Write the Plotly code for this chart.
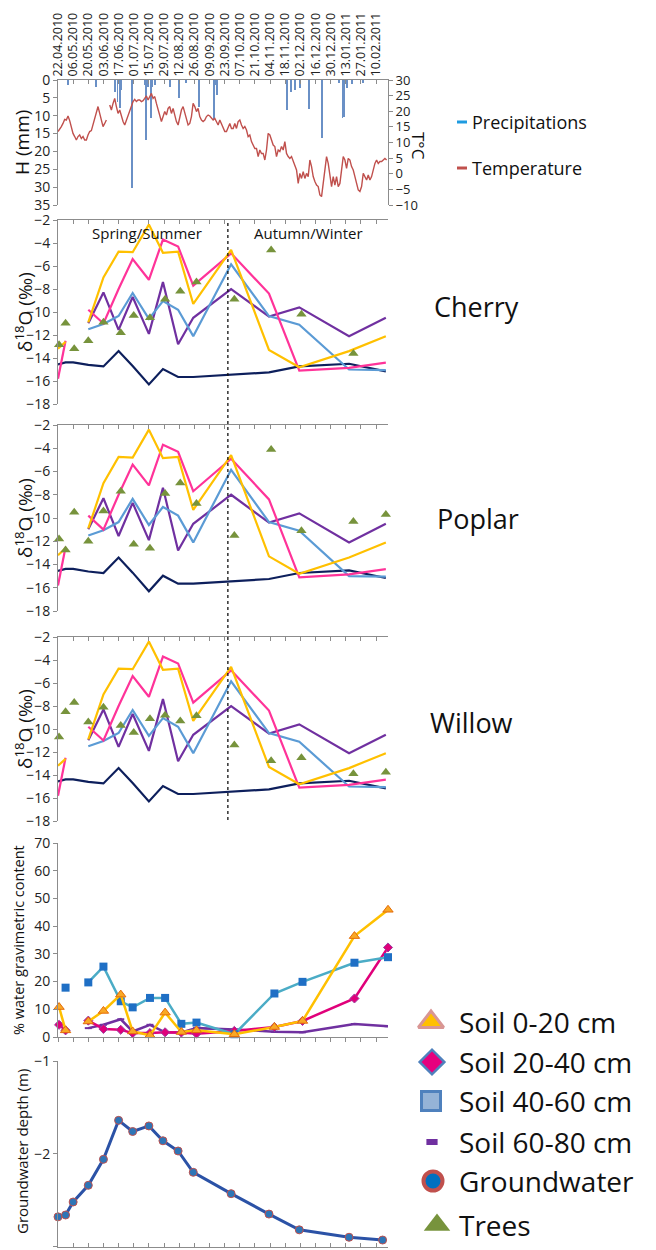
import plotly.graph_objects as go
import pandas as pd

# ---------------- data ----------------
# daily-ish air temperature (read every ~37 h from 22.04.2010)
temp_start = "2010-04-22"
temperature = [13.5,14.2,15.1,16.1,17.4,17.2,18.5,17.0,14.5,12.9,
 11.9,10.8,11.9,12.4,11.3,11.9,10.8,10.8,12.4,13.5,
 13.8,15.6,17.2,19.3,21.5,19.3,17.2,15.1,16.1,17.2,
 None,22.0,20.4,22.5,24.1,21.5,19.3,20.4,18.3,16.7,
 15.6,17.2,18.3,19.9,21.5,23.1,23.8,23.1,23.6,23.6,
 23.1,23.4,24.1,24.9,23.6,24.7,25.7,24.1,24.7,22.5,
 20.4,18.3,16.7,18.3,19.9,18.8,20.9,21.5,19.3,20.9,
 18.8,16.7,15.6,17.7,20.4,21.5,19.3,17.2,15.6,16.1,
 18.3,22.5,21.5,19.9,20.9,18.3,17.2,16.7,17.2,18.3,
 18.8,18.5,17.7,17.2,17.7,16.7,15.6,17.2,16.1,14.5,
 13.5,13.5,15.1,16.1,14.5,14.5,16.1,14.5,16.7,17.2,
 15.6,14.5,15.1,14.0,11.9,12.4,10.3,9.2,8.1,8.1,
 5.5,7.6,6.5,6.5,4.4,7.6,12.9,12.4,10.8,9.2,
 8.7,5.5,7.6,7.1,8.7,7.6,10.3,6.5,5.5,4.9,
 5.5,3.9,2.3,1.2,-3.1,0.1,-1.5,0.7,-1.5,0.1,
 -0.9,4.4,2.3,-0.9,-2.5,-3.6,-4.1,-6.8,-7.3,-3.1,
 0.7,5.5,3.3,0.1,-4.1,-0.9,-3.6,-0.9,-4.1,-3.1,
 1.2,5.5,4.4,1.7,4.9,4.4,2.3,1.2,-0.9,-3.1,
 -5.2,-5.7,-4.1,0.1,-0.9,-2.0,-0.4,-2.0,-0.9,1.2,
 3.3,4.4,3.3,3.9,3.9,4.4,4.9,4.4]

precip_dates = ["2010-05-01","2010-05-27","2010-06-14","2010-06-16","2010-06-18","2010-06-19",
                "2010-06-29","2010-07-11","2010-07-12","2010-07-14","2010-07-17","2010-07-18",
                "2010-07-21","2010-08-03","2010-08-04","2010-08-12","2010-08-18","2010-08-30",
                "2010-09-13","2010-09-14","2010-09-16","2010-11-20","2010-11-23","2010-11-27",
                "2010-12-02","2010-12-10","2010-12-22","2011-01-07","2011-01-10","2011-01-11",
                "2011-01-14","2011-01-19","2011-01-29"]
precip_mm = [1.4,2.0,3.3,6.1,7.9,2.8,30.3,1.4,16.8,1.9,10.7,1.9,1.4,1.9,1.9,5.1,0.9,7.5,
             11.0,1.4,4.2,8.4,3.3,2.8,2.3,8.2,16.3,0.9,10.7,10.3,2.3,1.1,0.9]

# isotope sampling dates (soil + groundwater lines)
iso_dates = ["2010-04-22","2010-04-29","2010-05-06","2010-05-20","2010-06-03","2010-06-17",
             "2010-06-30","2010-07-15","2010-07-28","2010-08-11","2010-08-25","2010-09-29",
             "2010-11-03","2010-12-01","2011-01-16","2011-02-19"]
iso_soil_0_20 = [-13.2,-12.6,None,-10.9,-7.0,-4.75,-4.8,-2.4,-4.85,-4.75,-9.3,-4.6,-13.3,-14.8,-13.4,-12.1]
iso_soil_20_40 = [-15.8,-12.5,None,-9.8,-11.0,-8.0,-5.4,-7.2,-3.7,-4.3,-7.7,-4.9,-8.4,-15.1,-14.85,-14.4]
iso_soil_40_60 = [None,None,None,-11.5,-11.05,-10.35,-8.35,-10.6,-9.05,-9.8,-12.1,-5.85,-10.35,-11.1,-15.0,-15.05]
iso_soil_60_80 = [None,None,None,-10.97,-8.3,-11.55,-8.7,-11.9,-7.4,-12.8,-10.5,-8.0,-10.4,-9.6,-12.1,-10.5]
iso_groundwater = [-14.55,-14.38,-14.38,-14.6,-14.73,-13.4,-14.7,-16.3,-14.96,-15.65,-15.65,-15.48,-15.25,-14.73,-14.5,-15.16]

tree_dates = ["2010-04-23","2010-04-29","2010-05-07","2010-05-20","2010-06-03","2010-06-19",
              "2010-07-01","2010-07-16","2010-07-30","2010-08-13","2010-08-28","2010-10-02",
              "2010-11-05","2010-12-03","2011-01-20","2011-02-19"]
cherry = [-12.85,-10.97,-13.2,-12.5,-10.9,-11.8,-10.3,-10.5,-8.9,-8.2,-7.4,-8.9,-4.6,-10.2,-13.6,None]
poplar = [-11.8,-12.75,-9.5,-12.0,-9.4,-7.7,-12.26,-12.6,-7.9,-7.0,-8.75,-11.5,-4.1,-11.1,-10.3,-9.7]
willow = [-10.7,-8.5,-7.7,-9.4,-8.1,-9.7,-10.3,-9.1,-8.8,-9.3,-8.85,-11.4,-12.75,-12.5,-13.9,-13.75]

# soil water content
soil_dates = ["2010-04-23","2010-04-29","2010-05-06","2010-05-20","2010-06-03","2010-06-19",
              "2010-06-30","2010-07-16","2010-07-30","2010-08-14","2010-08-28","2010-10-02",
              "2010-11-08","2010-12-04","2011-01-21","2011-02-21"]
swc_0_20 = [10.8,2.4,None,5.6,9.4,15.3,2.0,0.6,8.8,1.8,2.4,1.0,3.6,5.8,36.4,45.9]
swc_20_40 = [4.4,2.4,None,5.9,2.9,2.6,1.4,1.4,1.7,1.6,1.2,2.2,3.6,5.8,13.9,32.3]
swc_40_60 = [None,17.8,None,19.7,25.4,12.9,10.7,14.1,14.1,4.75,5.2,1.0,15.7,19.9,26.8,28.8]
swc_60_80 = [None,None,None,3.2,4.4,6.4,2.0,4.4,1.7,1.6,3.2,2.7,1.9,1.7,4.7,3.9]

# groundwater depth
gw_dates = ["2010-04-22","2010-04-29","2010-05-06","2010-05-20","2010-06-03","2010-06-17",
            "2010-06-30","2010-07-15","2010-07-28","2010-08-11","2010-08-25","2010-09-29",
            "2010-11-03","2010-12-01","2011-01-16","2011-02-16"]
gw_depth = [-2.68,-2.66,-2.52,-2.34,-2.06,-1.64,-1.76,-1.70,-1.86,-1.97,-2.20,-2.43,-2.65,-2.82,-2.90,-2.93]

legend_labels = ["Soil 0-20 cm","Soil 20-40 cm","Soil 40-60 cm","Soil 60-80 cm","Groundwater","Trees"]
panel_names = ["Cherry","Poplar","Willow"]

# ---------------- layout helpers ----------------
W, H = 656, 1250
FONT = "Open Sans"
def px(x): return x / W
def py(y): return 1 - y / H

XDOM = [px(58), px(388)]
XRANGE = ["2010-04-22", "2011-02-21"]
DAY = 86400000
AX = "#8c8c8c"

C_Y = "#ffc000"; C_P = "#ff3399"; C_B = "#5b9bd5"; C_V = "#7030a0"; C_N = "#0d1f5c"; C_T = "#77933c"

temp_dates = pd.date_range(temp_start, periods=len(temperature), freq="37h")

fig = go.Figure()

# top panel
fig.add_trace(go.Bar(x=precip_dates, y=precip_mm, xaxis="x", yaxis="y", width=DAY * 0.8,
                     marker=dict(color="#6a90c6", line=dict(width=0)), showlegend=False))
fig.add_trace(go.Scatter(x=temp_dates, y=temperature, xaxis="x", yaxis="y2", mode="lines",
                         line=dict(color="#c0504d", width=1.4), connectgaps=False, showlegend=False))

# isotope panels
iso_axes = [("x2", "y3", cherry), ("x3", "y4", poplar), ("x4", "y5", willow)]
for xa, ya, tree in iso_axes:
    for vals, col in [(iso_groundwater, C_N), (iso_soil_60_80, C_V), (iso_soil_40_60, C_B),
                      (iso_soil_20_40, C_P), (iso_soil_0_20, C_Y)]:
        fig.add_trace(go.Scatter(x=iso_dates, y=vals, xaxis=xa, yaxis=ya, mode="lines",
                                 line=dict(color=col, width=2.2), connectgaps=False, showlegend=False))
    fig.add_trace(go.Scatter(x=tree_dates, y=tree, xaxis=xa, yaxis=ya, mode="markers",
                             marker=dict(symbol="triangle-up", size=9, color=C_T), showlegend=False,
                             cliponaxis=False))

# soil water panel
fig.add_trace(go.Scatter(x=soil_dates, y=swc_60_80, xaxis="x5", yaxis="y6", mode="lines+markers",
                         line=dict(color=C_V, width=2.5),
                         marker=dict(symbol="line-ew", size=5, line=dict(color=C_V, width=2)),
                         connectgaps=False, showlegend=False))
fig.add_trace(go.Scatter(x=soil_dates, y=swc_20_40, xaxis="x5", yaxis="y6", mode="lines+markers",
                         line=dict(color="#e0007a", width=2.5),
                         marker=dict(symbol="diamond", size=7, color="#e0007a", line=dict(color="#9b3fa0", width=1)),
                         connectgaps=False, showlegend=False, cliponaxis=False))
fig.add_trace(go.Scatter(x=soil_dates, y=swc_40_60, xaxis="x5", yaxis="y6", mode="lines+markers",
                         line=dict(color="#4bacc6", width=2.5),
                         marker=dict(symbol="square", size=8, color="#1f6fc5"),
                         connectgaps=False, showlegend=False, cliponaxis=False))
fig.add_trace(go.Scatter(x=soil_dates, y=swc_0_20, xaxis="x5", yaxis="y6", mode="lines+markers",
                         line=dict(color=C_Y, width=2.5),
                         marker=dict(symbol="triangle-up", size=9, color="#f9a825", line=dict(color="#e46c0a", width=1)),
                         connectgaps=False, showlegend=False, cliponaxis=False))

# groundwater depth panel
fig.add_trace(go.Scatter(x=gw_dates, y=gw_depth, xaxis="x6", yaxis="y7", mode="lines+markers",
                         line=dict(color="#2b52a6", width=3),
                         marker=dict(symbol="circle", size=8, color="#2e75b6", line=dict(color="#c0504d", width=1)),
                         showlegend=False, cliponaxis=False))

# manual legend glyphs (overlay axes covering the page)
leg_y = [1022, 1062, 1101, 1142, 1181, 1225]
leg_x = [431, 432, 431, 432, 433, 437]
glyphs = [
    dict(symbol="triangle-up", size=22, color="#ffc000", line=dict(color="#d99694", width=3)),
    dict(symbol="diamond", size=19, color="#e6007e", line=dict(color="#4f81bd", width=2.5)),
    dict(symbol="square", size=19, color="#95b3d7", line=dict(color="#4f81bd", width=3)),
    dict(symbol="line-ew", size=8, color=C_V, line=dict(color=C_V, width=6)),
    dict(symbol="circle", size=19, color="#0070c0", line=dict(color="#c0504d", width=4)),
    dict(symbol="triangle-up", size=23, color=C_T, line=dict(width=0)),
]
for gx, gy, g in zip(leg_x, leg_y, glyphs):
    fig.add_trace(go.Scatter(x=[px(gx)], y=[py(gy)], xaxis="x7", yaxis="y8", mode="markers",
                             marker=g, showlegend=False, cliponaxis=False, hoverinfo="skip"))

tickfont = dict(family=FONT, size=14, color="#222")

def xax(anchor, side, ticks, showlabels=False):
    d = dict(domain=XDOM, range=XRANGE, type="date", anchor=anchor, side=side,
             showline=True, linecolor=AX, linewidth=1, ticks=ticks, ticklen=4, tickcolor=AX,
             tick0="2010-04-22", dtick=14 * DAY, showgrid=False, zeroline=False,
             showticklabels=showlabels, automargin=False)
    return d

def yax(dom, rng, dtick, anchor, side="left"):
    return dict(domain=dom, range=rng, dtick=dtick, anchor=anchor, side=side, showline=True,
                linecolor=AX, linewidth=1, ticks="outside", ticklen=4, tickcolor=AX,
                showgrid=False, zeroline=False, tickfont=tickfont, automargin=False)

layout = dict(
    width=W, height=H, margin=dict(l=0, r=0, t=0, b=0, autoexpand=False),
    paper_bgcolor="white", plot_bgcolor="rgba(0,0,0,0)", showlegend=False, bargap=0,
    font=dict(family=FONT, color="#111"),
)
top_x = xax("y", "top", "inside", True)
top_x.update(tickformat="%d.%m.%Y", tickangle=-90, tickfont=dict(family=FONT, size=12.5, color="#222"))
layout["xaxis"] = top_x
layout["yaxis"] = yax([py(205), py(80)], [35, 0], 5, "x")
y2 = yax([py(205), py(80)], [-10, 30], 5, "x", "right")
y2.update(overlaying="y", tickfont=dict(family=FONT, size=13, color="#222"))
layout["yaxis2"] = y2

iso_dom = [(220, 404), (425, 611), (637, 821)]
for i, (t, b) in enumerate(iso_dom):
    layout[f"xaxis{i+2}"] = xax(f"y{i+3}", "top", "inside")
    layout[f"yaxis{i+3}"] = yax([py(b), py(t)], [-18, -2], 2, f"x{i+2}")

layout["xaxis5"] = xax("y6", "bottom", "outside")
layout["yaxis6"] = yax([py(1037), py(843)], [0, 70], 10, "x5")
layout["xaxis6"] = xax("y7", "bottom", "inside")
layout["yaxis7"] = yax([py(1247), py(1061)], [-3.005, -1], 1, "x6")
layout["xaxis7"] = dict(domain=[0, 1], range=[0, 1], visible=False, anchor="y8", automargin=False)
layout["yaxis8"] = dict(domain=[0, 1], range=[0, 1], visible=False, anchor="x7", automargin=False)

fig.update_layout(**layout)

ann = []
def A(text, x, y, size, angle=0, xanchor="center", color="#111"):
    ann.append(dict(text=text, x=px(x), y=py(y), xref="paper", yref="paper", showarrow=False,
                    textangle=angle, xanchor=xanchor, yanchor="middle",
                    font=dict(family=FONT, size=size, color=color)))

A("H (mm)", 22, 143, 19, -90)
A("T°C", 419, 146, 17, 90)
A("Precipitations", 470, 122, 18, xanchor="left")
A("Temperature", 470, 168, 18, xanchor="left")
for cy in [312, 518, 729]:
    A("δ<sup>18</sup>O (‰)", 24, cy, 19, -90)
A("Spring/Summer", 147, 233, 15)
A("Autumn/Winter", 308, 233, 15)
for name, (cx, cy) in zip(panel_names, [(476, 306), (478, 518), (471, 722)]):
    A(name, cx, cy, 27)
A("% water gravimetric content", 18, 940, 14.5, -90)
A("Groundwater depth (m)", 22, 1152, 15, -90)
for lab, ly in zip(legend_labels, leg_y):
    A(lab, 457, ly, 28, xanchor="left")
fig.update_layout(annotations=ann)

shapes = [
    dict(type="line", xref="x2", yref="paper", x0="2010-09-26", x1="2010-09-26",
         y0=py(820), y1=py(220), line=dict(color="#111", width=1.3, dash="dot")),
    dict(type="line", xref="paper", yref="paper", x0=px(457), x1=px(467), y0=py(122), y1=py(122),
         line=dict(color="#1e9be0", width=3)),
    dict(type="line", xref="paper", yref="paper", x0=px(457), x1=px(467), y0=py(168), y1=py(168),
         line=dict(color="#c0504d", width=3)),
]
fig.update_layout(shapes=shapes)

fig.write_html("out.html", config={"displayModeBar": False},
               post_script="document.body.style.margin='0px';document.body.style.overflow='hidden';")
